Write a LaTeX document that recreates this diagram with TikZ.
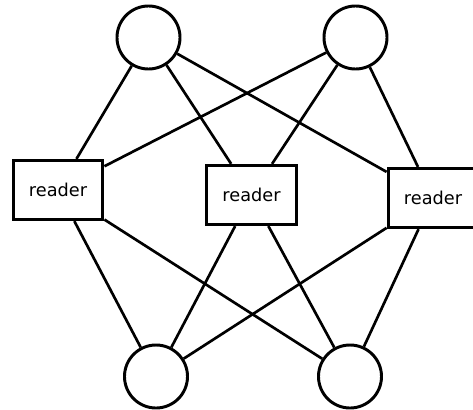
\documentclass[tikz,border=0pt]{standalone}
\usepackage{fontspec}
\setsansfont{DejaVu Sans}
\usepackage{tikz}

\begin{document}
\begin{tikzpicture}[x=0.025cm, y=-0.025cm, font=\sffamily\fontsize{12.6}{14}\selectfont,
  ring/.style={draw, circle, line width=2.1pt, minimum size=1.575cm, inner sep=0pt},
  box/.style={draw, line width=2.3pt, align=center, minimum height=1.475cm, minimum width=2.24cm, inner sep=2pt},
  link/.style={line width=1.9pt}]
\useasboundingbox (0,0) rectangle (473,409);
\node[ring] (srcA) at (148.5,37.5) {};
\node[ring] (srcB) at (355.5,37.5) {};
\node[box]  (rdA)  at (58,190)     {reader};
\node[box]  (rdB)  at (251.5,195)  {reader};
\node[box]  (rdC)  at (433,198)    {reader};
\node[ring] (dstA) at (156,376.5)  {};
\node[ring] (dstB) at (350,376.5)  {};


\draw[link] (srcA) -- (rdA);
\draw[link] (srcA) -- (rdB);
\draw[link] (srcA) -- (rdC);
\draw[link] (srcB) -- (rdA);
\draw[link] (srcB) -- (rdB);
\draw[link] (srcB) -- (rdC);
\draw[link] (rdA) -- (dstA);
\draw[link] (rdA) -- (dstB);
\draw[link] (rdB) -- (dstA);
\draw[link] (rdB) -- (dstB);
\draw[link] (rdC) -- (dstA);
\draw[link] (rdC) -- (dstB);
\end{tikzpicture}
\end{document}
